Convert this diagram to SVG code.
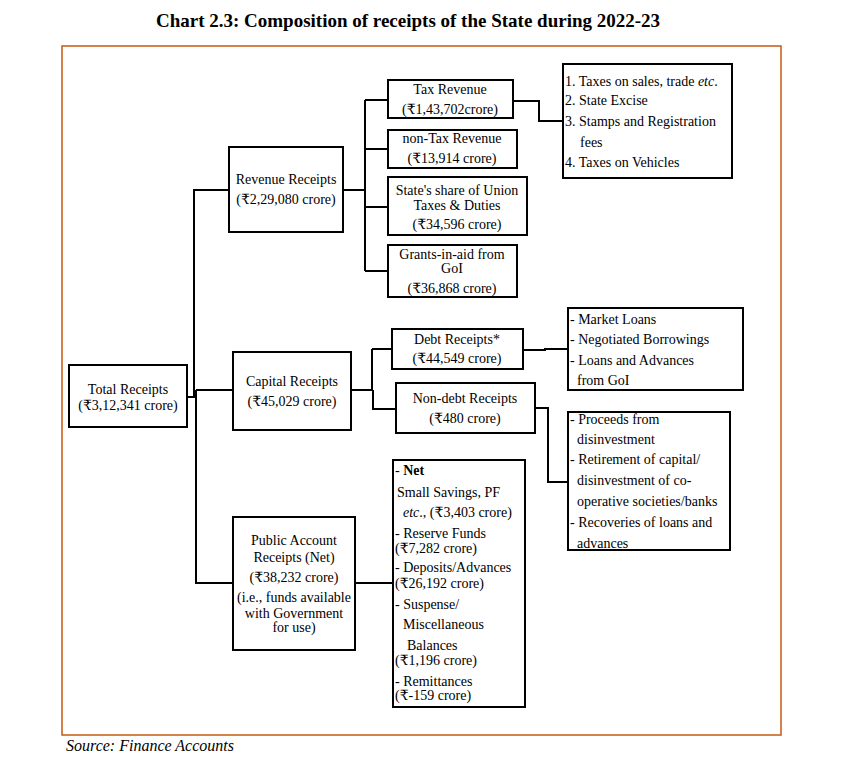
<svg xmlns="http://www.w3.org/2000/svg" width="841" height="762" viewBox="0 0 841 762" font-family="'Liberation Serif', 'Times New Roman', serif">
<style>
  text { font-family: "Liberation Serif", "Times New Roman", "DejaVu Serif", serif; font-size: 14px; fill: #000; }
  .c { text-anchor: middle; }
  .title { font-size: 19px; font-weight: bold; }
  .src { font-size: 16px; font-style: italic; }
  .box { fill: #fff; stroke: #000; stroke-width: 2; }
  .conn { fill: none; stroke: #000; stroke-width: 2; }
  .frame { fill: none; stroke: #C55A11; stroke-width: 1.5; }
</style>
<rect width="841" height="762" fill="#fff"/>
<text class="title c" x="408" y="27">Chart 2.3: Composition of receipts of the State during 2022-23</text>
<rect class="frame" x="62" y="46" width="719" height="689"/>
<text class="src" x="66" y="751">Source: Finance Accounts</text>

<g id="connectors">
  <path class="conn" d="M187,397 H196 M194,397 V190 H229"/>
  <path class="conn" d="M196,390 H233 M196,390 V583 H233"/>
  <path class="conn" d="M343,190 H365 M365,100 V271 M365,100 H388 M365,149 H388 M365,207 H388 M365,271 H388"/>
  <path class="conn" d="M513,101 H539 V121 H563"/>
  <path class="conn" d="M351,390 H372 M372,349 V390 M372,349 H392 M373,390 V409 H396"/>
  <path class="conn" d="M523,350 H545 V349 H568"/>
  <path class="conn" d="M535,408 H548 V482 H568"/>
  <path class="conn" d="M355,583 H393"/>
</g>

<g id="total">
  <rect class="box" x="69" y="365" width="118" height="62"/>
  <text class="c" x="128" y="394">Total Receipts</text>
  <text class="c" x="128" y="410">(₹3,12,341 crore)</text>
</g>
<g id="revenue">
  <rect class="box" x="229" y="147" width="114" height="85"/>
  <text class="c" x="286" y="184">Revenue Receipts</text>
  <text class="c" x="286" y="204">(₹2,29,080 crore)</text>
</g>
<g id="capital">
  <rect class="box" x="233" y="352" width="118" height="78"/>
  <text class="c" x="292" y="386">Capital Receipts</text>
  <text class="c" x="292" y="406">(₹45,029 crore)</text>
</g>
<g id="public">
  <rect class="box" x="233" y="517" width="122" height="133"/>
  <text class="c" x="294" y="545">Public Account</text>
  <text class="c" x="294" y="562">Receipts (Net)</text>
  <text class="c" x="294" y="582">(₹38,232 crore)</text>
  <text class="c" x="294" y="602">(i.e., funds available</text>
  <text class="c" x="294" y="618">with Government</text>
  <text class="c" x="294" y="632">for use)</text>
</g>
<g id="tax">
  <rect class="box" x="388" y="80" width="125" height="38"/>
  <text class="c" x="450" y="94">Tax Revenue</text>
  <text class="c" x="450" y="114">(₹1,43,702crore)</text>
</g>
<g id="nontax">
  <rect class="box" x="388" y="130" width="129" height="38"/>
  <text class="c" x="452" y="143">non-Tax Revenue</text>
  <text class="c" x="452" y="163">(₹13,914 crore)</text>
</g>
<g id="share">
  <rect class="box" x="388" y="177" width="139" height="58"/>
  <text class="c" x="457" y="195">State's share of Union</text>
  <text class="c" x="457" y="210">Taxes &amp; Duties</text>
  <text class="c" x="457" y="229">(₹34,596 crore)</text>
</g>
<g id="grants">
  <rect class="box" x="388" y="245" width="129" height="52"/>
  <text class="c" x="452" y="259">Grants-in-aid from</text>
  <text class="c" x="452" y="273">GoI</text>
  <text class="c" x="452" y="293">(₹36,868 crore)</text>
</g>
<g id="taxlist">
  <rect class="box" x="563" y="64" width="169" height="114"/>
  <text x="565" y="86">1. Taxes on sales, trade <tspan font-style="italic">etc</tspan>.</text>
  <text x="565" y="105">2. State Excise</text>
  <text x="565" y="126">3. Stamps and Registration</text>
  <text x="580" y="147">fees</text>
  <text x="565" y="167">4. Taxes on Vehicles</text>
</g>
<g id="debt">
  <rect class="box" x="392" y="329" width="131" height="40"/>
  <text class="c" x="457" y="344">Debt Receipts*</text>
  <text class="c" x="457" y="363">(₹44,549 crore)</text>
</g>
<g id="nondebt">
  <rect class="box" x="396" y="383" width="139" height="50"/>
  <text class="c" x="465" y="403">Non-debt Receipts</text>
  <text class="c" x="465" y="423">(₹480 crore)</text>
</g>
<g id="debtlist">
  <rect class="box" x="568" y="308" width="175" height="82"/>
  <text x="570" y="324">- Market Loans</text>
  <text x="570" y="344">- Negotiated Borrowings</text>
  <text x="570" y="365">- Loans and Advances</text>
  <text x="577" y="385">from GoI</text>
</g>
<g id="nondebtlist">
  <rect class="box" x="568" y="412" width="162" height="138"/>
  <text x="570" y="424">- Proceeds from</text>
  <text x="577" y="444">disinvestment</text>
  <text x="570" y="464">- Retirement of capital/</text>
  <text x="577" y="485">disinvestment of co-</text>
  <text x="577" y="506">operative societies/banks</text>
  <text x="570" y="527">- Recoveries of loans and</text>
  <text x="577" y="548">advances</text>
</g>
<g id="publiclist">
  <rect class="box" x="393" y="460" width="132" height="247"/>
  <text x="395" y="475">- <tspan font-weight="bold">Net</tspan></text>
  <text x="397" y="497">Small Savings, PF</text>
  <text x="403" y="517"><tspan font-style="italic">etc</tspan>., (₹3,403 crore)</text>
  <text x="395" y="538">- Reserve Funds</text>
  <text x="395" y="553">(₹7,282 crore)</text>
  <text x="395" y="572">- Deposits/Advances</text>
  <text x="395" y="588">(₹26,192 crore)</text>
  <text x="395" y="609">- Suspense/</text>
  <text x="403" y="629">Miscellaneous</text>
  <text x="407" y="650">Balances</text>
  <text x="395" y="665">(₹1,196 crore)</text>
  <text x="395" y="686">- Remittances</text>
  <text x="395" y="700">(₹-159 crore)</text>
</g>
</svg>
